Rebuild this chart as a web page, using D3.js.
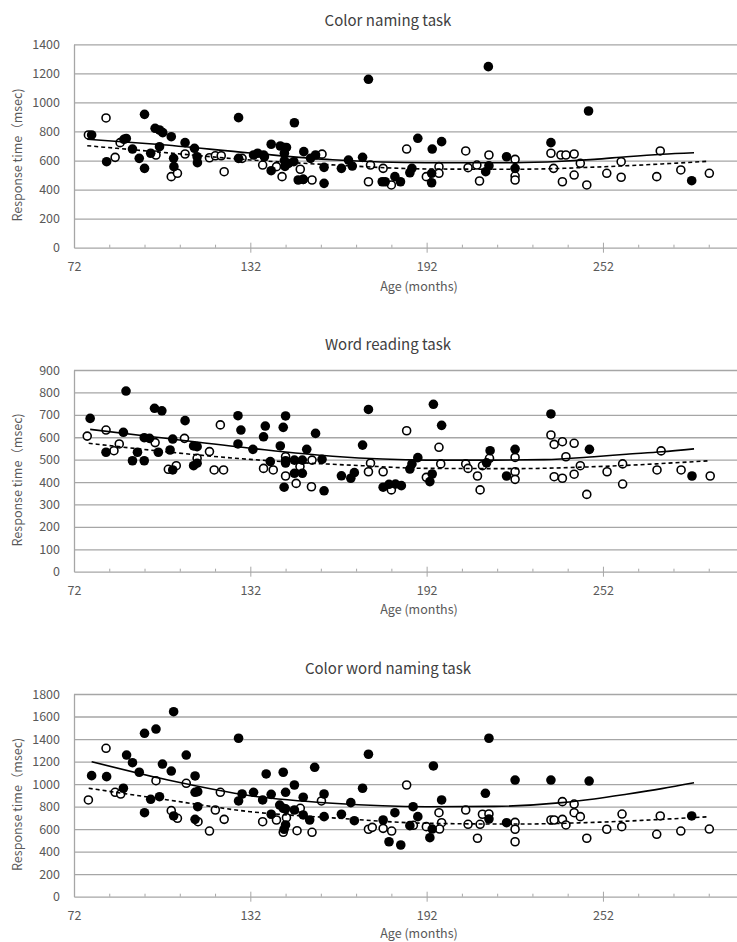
<!DOCTYPE html>
<meta charset="utf-8">
<html>
<head>
<title>Response time by age</title>
<style>
  body { margin: 0; background: #fff; }
  svg text { font-family: 'Noto Sans CJK JP', 'Noto Sans', sans-serif; }
  .grid line { stroke: #a6a6a6; stroke-width: 1.3; }
  .grid path { display: none; }
  .tick text { fill: #595959; font-size: 12.5px; }
  .title { fill: #404040; font-size: 15px; }
  .axtitle { fill: #595959; font-size: 12.5px; }
</style>
</head>
<body>
<div id="chart"></div>
<script src="https://d3js.org/d3.v7.min.js"></script>
<script>

// ages in months, response times in msec, [age, value]
var xTickLabels = [72, 132, 192, 252];
var xMinorTicks = [84, 96, 108, 120, 144, 156, 168, 180, 204, 216, 228, 240, 264, 276, 288];

// Color naming task
var colorFilled = [[78,776],[83.1,592],[89,746],[89.8,752],[91.9,679],[94.2,615],[96,918],[96,546],[98.1,650],[99.6,822],[101.1,810],[102.2,792],[101.1,695],[105.1,764],[105.9,615],[106,558],[109.8,723],[113,684],[113.9,626],[114,585],[128,895],[128,615],[133.1,638],[134.5,650],[136.5,638],[136.8,626],[139.1,712],[139.1,530],[142.2,700],[143.6,690],[143.6,650],[143.6,600],[143.8,560],[145,580],[144.3,690],[147,860],[146.8,592],[148.3,466],[150,470],[150.2,661],[152.5,615],[154.2,638],[157.1,553],[157.1,443],[163,546],[165.4,603],[166.7,562],[170.2,622],[172.2,1159],[176.9,454],[177.9,454],[181.2,489],[183.1,454],[186.3,516],[187,546],[189,753],[193.7,512],[193.7,447],[193.9,679],[197.1,730],[212.1,523],[213,1246],[213.2,564],[219.2,626],[222.1,546],[234.3,723],[247.1,941],[282.2,461]];
var colorOpen = [[76.9,776],[82.9,893],[86,622],[87.7,723],[99.9,638],[105.1,489],[107.2,512],[109.8,645],[118.1,619],[120.1,633],[122.1,633],[123.1,523],[129.2,615],[136.2,569],[140.9,558],[142.8,489],[149,540],[150,470],[153,466],[156.4,644],[172.2,454],[172.9,569],[177.2,546],[180,432],[185.2,679],[191.9,489],[196.2,558],[196.2,512],[205.3,666],[206.1,551],[209.1,569],[210,459],[213.2,638],[222.1,608],[222.1,493],[222.1,466],[234.3,650],[235.2,546],[237.7,638],[239.4,638],[242.2,645],[238.2,454],[242.2,500],[244.3,581],[246.5,432],[253.3,512],[258.2,592],[258.2,485],[270.3,489],[271.5,666],[278.5,535],[288.2,512]];
var colorSolid = [[76.5,746],[100,712],[132,652],[160,605],[192,585],[222,585],[238,595],[249,608],[260,626],[272,643],[283,654]];
var colorDashed = [[76.5,702],[100,660],[132,604],[160,570],[192,542],[222,540],[252,557],[288,595]];

// Word reading task
var wordFilled = [[77.5,684],[82.9,533],[88.8,622],[89.7,806],[91.9,495],[93.6,533],[95.9,495],[95.9,598],[97.7,595],[99.4,729],[101.9,718],[100.7,533],[104.7,543],[105.6,592],[105.6,454],[109.8,674],[112.7,561],[112.7,473],[113.9,484],[113.9,558],[127.8,696],[128.8,632],[127.8,570],[132.9,546],[136.5,602],[137.1,650],[138.8,491],[142.2,561],[143.2,644],[144,695],[143.5,377],[144,485],[144,495],[147,498],[149.7,498],[147,439],[149.7,439],[151.2,546],[154.2,617],[156.4,501],[157.1,361],[163,428],[166.2,417],[167.4,442],[170.2,565],[172.2,724],[177.2,377],[179.2,390],[181.4,391],[183.4,384],[186.3,458],[187,481],[189,509],[193.1,402],[193.9,436],[194.3,747],[197.1,653],[212.4,486],[213.6,540],[219.2,427],[222.1,546],[234.3,704],[247.4,546],[282.3,427]];
var wordOpen = [[76.5,605],[82.9,632],[85.6,540],[87.4,570],[99.6,576],[104.1,457],[106.8,473],[109.6,595],[113.9,506],[118.1,536],[119.7,454],[121.8,655],[122.9,454],[136.5,461],[139.8,454],[144,427],[144,513],[147.6,394],[148.9,469],[152.8,379],[153,498],[172.2,446],[172.9,484],[177.2,446],[180,365],[185.2,629],[191.9,421],[196.2,555],[196.8,481],[205.3,481],[206.1,461],[209.3,427],[210.2,365],[211,473],[213.4,506],[222.1,510],[222.1,446],[222.1,412],[234.3,610],[235.4,568],[238.2,580],[242.2,573],[239.4,513],[235.4,424],[238.2,417],[242.2,435],[244.3,473],[246.5,345],[253.4,446],[258.7,481],[258.7,391],[271.8,539],[270.4,454],[278.6,454],[288.5,427]];
var wordSolid = [[77.5,635],[100,600],[132,551],[160,515],[192,498],[215,498],[232,500],[249,513],[260,524],[272,535],[283,548]];
var wordDashed = [[77,573],[132,501],[170,473],[192,461],[222,460],[252,470],[288,495]];

// Color word naming task
var cwFilled = [[78,1075],[83.1,1066],[88.8,963],[89.9,1258],[91.9,1190],[94.2,1105],[96,1451],[96,746],[98.1,865],[99.9,1489],[101.1,888],[102.1,1178],[105.1,1116],[105.9,1643],[105.9,717],[110.2,1258],[113.2,1072],[113.2,927],[114.1,933],[114.1,799],[113.2,687],[128,1407],[128,850],[129.2,912],[133.1,927],[136.2,859],[137.4,1090],[139.1,909],[139.1,732],[142,814],[143.2,1105],[144,927],[143.2,785],[144,780],[144,637],[143.5,599],[147,992],[147,770],[150,883],[150,726],[152.2,681],[153.9,1149],[157.1,912],[157.1,711],[163,732],[166.2,835],[167.4,675],[170.2,963],[172.2,1265],[177.2,681],[179.2,488],[181.2,746],[183.2,459],[186.3,631],[187.4,799],[189,711],[193.1,524],[193.9,601],[194.3,1161],[197.1,859],[212,918],[213.2,1407],[213.2,690],[219.2,657],[222.1,1036],[234.3,1036],[247.3,1027],[282.2,717]];
var cwOpen = [[76.9,859],[82.9,1318],[86,927],[87.9,912],[99.9,1030],[105.1,764],[107.2,696],[110.2,1007],[114.2,666],[118.1,583],[120.1,770],[121.8,927],[123.1,687],[136.2,666],[140.9,681],[144.3,702],[143.2,572],[149,785],[147.9,586],[153,572],[156.2,850],[172.2,599],[173.5,616],[177.2,607],[180.1,583],[185.2,992],[187.5,634],[191.9,622],[196.2,746],[197.1,657],[196.4,601],[205.3,770],[206.1,643],[209.3,519],[210.2,643],[211,732],[213.2,735],[222.1,660],[222.1,599],[222.1,488],[234.3,681],[235.4,681],[238.2,844],[238.2,687],[239.4,637],[242.2,823],[242.2,746],[244.3,711],[246.5,519],[253.3,599],[258.5,734],[258.4,622],[270.3,554],[271.5,717],[278.5,583],[288.2,601]];
var cwSolid = [[78,1199],[104,1036],[132,897],[160,830],[192,799],[215,802],[238,835],[249,868],[260,910],[272,960],[283,1012]];
var cwDashed = [[77,963],[104,859],[132,755],[160,700],[192,652],[222,645],[252,663],[288,710]];

var panels = [
  { title: "Color naming task", top: 44.3, bottom: 247.7, yMax: 1400, yStep: 200,
    filled: colorFilled, open: colorOpen, solid: colorSolid, dashed: colorDashed, titleY: 21, axY: 287 },
  { title: "Word reading task", top: 370, bottom: 571.7, yMax: 900, yStep: 100,
    filled: wordFilled, open: wordOpen, solid: wordSolid, dashed: wordDashed, titleY: 345, axY: 610 },
  { title: "Color word naming task", top: 694, bottom: 896.7, yMax: 1800, yStep: 200,
    filled: cwFilled, open: cwOpen, solid: cwSolid, dashed: cwDashed, titleY: 669, axY: 934 }
];

var width = 737, height = 942;
var left = 74, right = 744;

var svg = d3.select("#chart").append("svg")
    .attr("width", width)
    .attr("height", height);

var x = d3.scaleLinear().domain([72, 300]).range([left, right]);

panels.forEach(function(p) {
  var y = d3.scaleLinear().domain([0, p.yMax]).range([p.bottom, p.top]);
  var yTicks = d3.range(0, p.yMax + 1, p.yStep);
  var g = svg.append("g");

  // gridlines
  g.append("g")
      .attr("class", "grid")
      .attr("transform", "translate(" + left + ",0)")
      .call(d3.axisLeft(y).tickValues(yTicks.slice(1)).tickSize(-(right - left)).tickFormat(""));

  // y axis
  var ya = g.append("g")
      .attr("transform", "translate(" + left + ",0)")
      .call(d3.axisLeft(y).tickValues(yTicks).tickFormat(d3.format("d"))
        .tickSize(0).tickPadding(14).tickSizeOuter(0));
  ya.select(".domain").attr("stroke", "#a6a6a6").attr("stroke-width", 1.3);

  // x axis
  var xa = g.append("g")
      .attr("transform", "translate(0," + p.bottom + ")")
      .call(d3.axisBottom(x).tickValues(xTickLabels).tickFormat(d3.format("d"))
        .tickSize(5).tickPadding(9).tickSizeOuter(0));
  xa.select(".domain").attr("stroke", "#a6a6a6").attr("stroke-width", 1.3);
  xa.selectAll(".tick line").attr("stroke", "#a6a6a6").attr("y1", -5)
      .filter(function(d) { return d === 72; }).remove();

  var xm = g.append("g")
      .attr("transform", "translate(0," + p.bottom + ")")
      .call(d3.axisBottom(x).tickValues(xMinorTicks).tickSize(-3).tickFormat(""));
  xm.select(".domain").remove();
  xm.selectAll(".tick line").attr("stroke", "#a6a6a6");

  // titles
  g.append("text").attr("class", "title")
      .attr("x", 388).attr("y", p.titleY).attr("dy", "0.35em")
      .attr("text-anchor", "middle").text(p.title);
  g.append("text").attr("class", "axtitle")
      .attr("x", 419).attr("y", p.axY).attr("dy", "0.35em")
      .attr("text-anchor", "middle").text("Age (months)");
  g.append("text").attr("class", "axtitle")
      .attr("transform", "translate(18," + ((p.top + p.bottom) / 2 + 9) + ") rotate(-90)")
      .attr("dy", "0.35em")
      .attr("text-anchor", "middle").text("Response time（msec)");

  // points
  g.selectAll(".open")
    .data(p.open).enter()
    .append("circle")
      .attr("class", "open")
      .attr("cx", function(d) { return x(d[0]); })
      .attr("cy", function(d) { return y(d[1]); })
      .attr("r", 4)
      .attr("fill", "#fff")
      .attr("stroke", "#000")
      .attr("stroke-width", 1.6);

  g.selectAll(".filled")
    .data(p.filled).enter()
    .append("circle")
      .attr("class", "filled")
      .attr("cx", function(d) { return x(d[0]); })
      .attr("cy", function(d) { return y(d[1]); })
      .attr("r", 4.8)
      .attr("fill", "#000");

  // trend lines
  var line = d3.line()
      .x(function(d) { return x(d[0]); })
      .y(function(d) { return y(d[1]); })
      .curve(d3.curveMonotoneX);

  g.append("path").datum(p.solid)
      .attr("d", line).attr("fill", "none")
      .attr("stroke", "#000").attr("stroke-width", 1.6);
  g.append("path").datum(p.dashed)
      .attr("d", line).attr("fill", "none")
      .attr("stroke", "#000").attr("stroke-width", 1.6)
      .attr("stroke-dasharray", "4,3");
});

</script>
</body>
</html>
